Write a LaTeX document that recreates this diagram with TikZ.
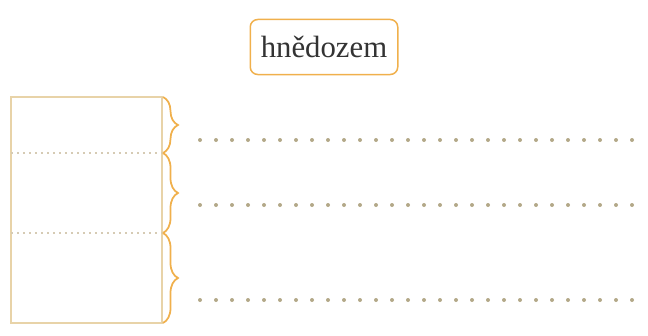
\documentclass[tikz,border=0pt]{standalone}
\usepackage{fontspec}
\setmainfont{Liberation Serif}
\usepackage{tikz}
\usetikzlibrary{positioning,calc,decorations.pathreplacing}

\definecolor{braceor}{HTML}{F0B04C}
\definecolor{boxline}{HTML}{E8D3A8}
\definecolor{dashgray}{HTML}{D6CBB4}
\definecolor{dotgray}{HTML}{B3A888}

\begin{document}
\begin{tikzpicture}[x=0.4mm,y=-0.4mm,
  label box/.style={draw=braceor, line width=0.6mm, rounded corners=3mm, minimum width=59mm, minimum height=22mm, inner sep=0pt, font=\fontsize{35}{40}\selectfont, text=black!80},
  layer brace/.style={draw=braceor, line width=0.7mm, decorate, decoration={brace, amplitude=6mm, aspect=0.5}},
  dot/.style={circle, fill=dotgray, inner sep=0pt, minimum size=1.6mm}]
\useasboundingbox (0,0) rectangle (648,336);

\node[label box, name=soil] at (324,47) {hnědozem};

% profile
\draw[boxline, line width=0.5mm] (11,97) rectangle (162,323);
\draw[dashgray, line width=0.5mm, dash pattern=on 0.8mm off 1.6mm] (11,153) -- (162,153);
\draw[dashgray, line width=0.5mm, dash pattern=on 0.8mm off 1.6mm] (11,233) -- (162,233);

\draw[layer brace] (163,97) -- (163,153);
\draw[layer brace] (163,153) -- (163,233);
\draw[layer brace] (163,233) -- (163,323);

% lines to write on
\foreach \y in {140,205,300}
  \foreach \i in {0,...,27}
    \node[dot, name=d\y-\i] at (200+16*\i,\y) {};
\end{tikzpicture}
\end{document}
